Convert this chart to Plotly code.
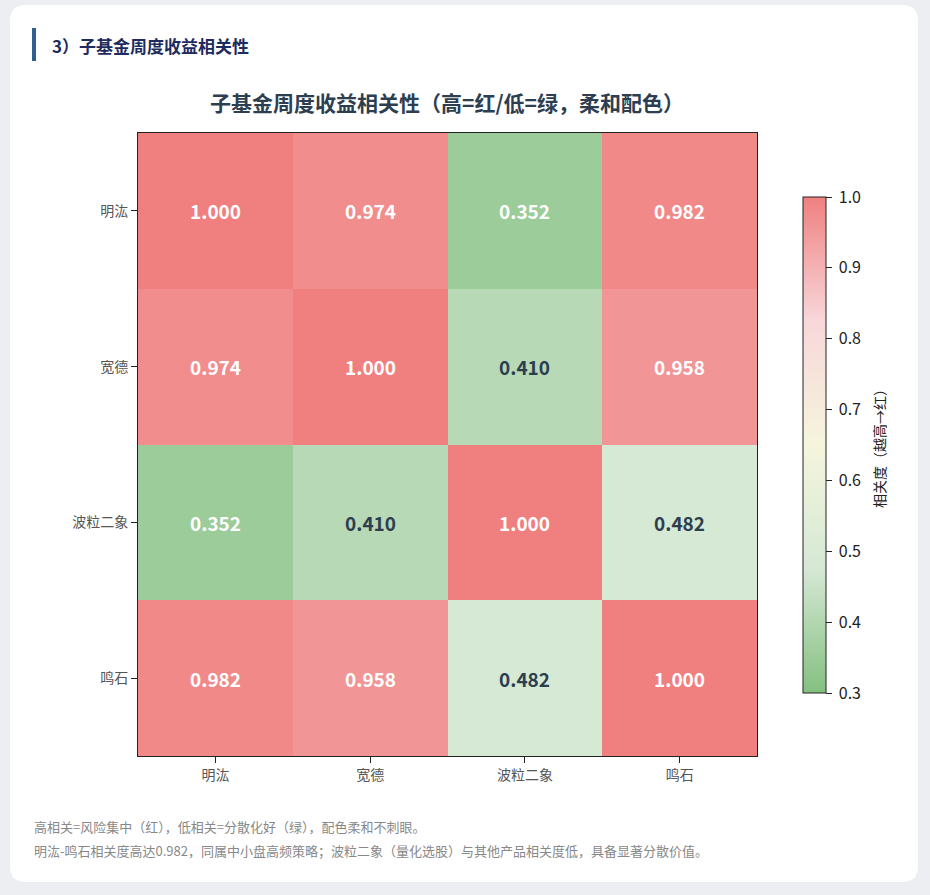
import plotly.graph_objects as go

# ---------------------------------------------------------------
# data
# ---------------------------------------------------------------
funds = ["明汯", "宽德", "波粒二象", "鸣石"]
corr = [
    [1.000, 0.974, 0.352, 0.982],
    [0.974, 1.000, 0.410, 0.958],
    [0.352, 0.410, 1.000, 0.482],
    [0.982, 0.958, 0.482, 1.000],
]
cbar_ticks = [0.3, 0.4, 0.5, 0.6, 0.7, 0.8, 0.9, 1.0]

section_title = "3）子基金周度收益相关性"
chart_title = "<b>子基金周度收益相关性（高=红/低=绿，柔和配色）</b>"
cbar_title = "相关度（越高→红）"
notes = [
    "高相关=风险集中（红），低相关=分散化好（绿），配色柔和不刺眼。",
    "明汯-鸣石相关度高达0.982，同属中小盘高频策略；波粒二象（量化选股）与其他产品相关度低，具备显著分散价值。",
]

W, H = 930, 895
FONT = "Noto Sans CJK SC"

# soft green -> cream -> pink -> light coral
colorscale = [
    [0.00, "#84c080"],
    [0.25, "#d5e8d4"],
    [0.50, "#f5f5dc"],
    [0.75, "#f8d7da"],
    [1.00, "#f08080"],
]


def px_x(v):
    return v / W


def px_y(v):
    return 1 - v / H


fig = go.Figure()

fig.add_trace(go.Heatmap(
    z=corr, x=funds, y=funds,
    zmin=0.3, zmax=1.0, colorscale=colorscale,
    hovertemplate="%{y} / %{x}: %{z:.3f}<extra></extra>",
    colorbar=dict(
        x=px_x(803), xanchor="left", xref="paper", xpad=0,
        y=px_y(445), yanchor="middle", yref="paper", ypad=0,
        len=496 / H, lenmode="fraction", thickness=23,
        outlinewidth=1, outlinecolor="#222",
        tickvals=cbar_ticks, ticktext=[f"\u00a0{t:.1f}" for t in cbar_ticks],
        ticks="outside", ticklen=6, tickcolor="#222",
        tickfont=dict(family=FONT, size=16, color="#222"),
    ),
))

# value labels in each cell
for i, row in enumerate(corr):
    for j, v in enumerate(row):
        dark = 0.4 < v < 0.85
        fig.add_annotation(
            x=funds[j], y=funds[i], text=f"<b>{v:.3f}</b>", showarrow=False,
            font=dict(family=FONT, size=19, color="#2d3e50" if dark else "white"),
        )

# card background
r = 16
x0, x1, y0, y1 = px_x(10), px_x(918), px_y(5), px_y(882)
rx, ry = r / W, r / H
card = (f"M {x0+rx},{y0} L {x1-rx},{y0} Q {x1},{y0} {x1},{y0-ry} "
        f"L {x1},{y1+ry} Q {x1},{y1} {x1-rx},{y1} L {x0+rx},{y1} "
        f"Q {x0},{y1} {x0},{y1+ry} L {x0},{y0-ry} Q {x0},{y0} {x0+rx},{y0} Z")
fig.add_shape(type="path", path=card, xref="paper", yref="paper",
              fillcolor="white", line=dict(width=0), layer="below")
fig.add_shape(type="rect", xref="paper", yref="paper",
              x0=px_x(32), x1=px_x(36), y0=px_y(61), y1=px_y(28),
              fillcolor="#2f5f8f", line=dict(width=0), layer="below")

fig.add_annotation(x=px_x(50), y=px_y(45), xref="paper", yref="paper",
                   text=f"<b>{section_title}</b>", showarrow=False,
                   xanchor="left", yanchor="middle",
                   font=dict(family=FONT, size=17, color="#1e2b5e"))
fig.add_annotation(x=px_x(447), y=px_y(102), xref="paper", yref="paper",
                   text=chart_title, showarrow=False,
                   xanchor="center", yanchor="middle",
                   font=dict(family=FONT, size=21, color="#2d3e50"))
# colorbar label, rotated, reading bottom to top
fig.add_annotation(x=px_x(879), y=px_y(445), xref="paper", yref="paper",
                   text=cbar_title, showarrow=False, textangle=-90,
                   xanchor="center", yanchor="middle",
                   font=dict(family=FONT, size=14, color="#222"))
for k, line in enumerate(notes):
    fig.add_annotation(x=px_x(32), y=px_y(826 + 24 * k), xref="paper", yref="paper",
                       text=line, showarrow=False, xanchor="left", yanchor="middle",
                       font=dict(family=FONT, size=13, color="#888"))

axis_common = dict(
    showline=True, linecolor="#222", linewidth=1, mirror=True,
    ticks="outside", ticklen=6, tickcolor="#222",
    showgrid=False, zeroline=False,
    tickfont=dict(family=FONT, size=14, color="#555"),
)

fig.update_layout(
    width=W, height=H,
    margin=dict(l=0, r=0, t=0, b=0),
    paper_bgcolor="#eceef2", plot_bgcolor="white",
    xaxis=dict(domain=[px_x(138), px_x(757)], **axis_common),
    yaxis=dict(domain=[px_y(756), px_y(133)], autorange="reversed", **axis_common),
    font=dict(family=FONT),
)

# drop the page's default body margin so the figure sits at (0, 0)
fig.write_html("out.html", config={"displayModeBar": False},
               post_script="document.body.style.margin='0';document.body.style.overflow='hidden';")
